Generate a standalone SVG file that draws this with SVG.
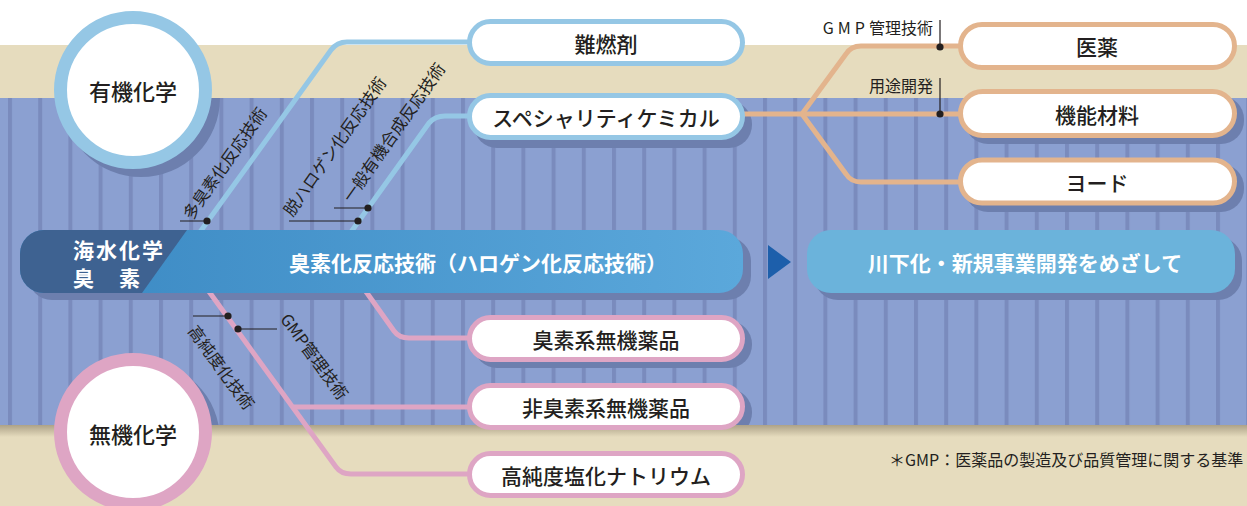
<svg xmlns="http://www.w3.org/2000/svg" width="1247" height="506" viewBox="0 0 1247 506">
<defs>
<style>
.jp{font-family:'Noto Sans CJK JP','Noto Sans',sans-serif;}
.lbl{font-size:21px;fill:#231f20;text-anchor:middle;dominant-baseline:central;font-weight:500;}
.circ{font-size:22px;fill:#231f20;text-anchor:middle;dominant-baseline:central;font-weight:500;}
.rot{font-size:16.5px;fill:#231f20;text-anchor:middle;dominant-baseline:central;}
.wh{fill:#fff;font-weight:bold;font-size:21px;}
.sm{font-size:16px;fill:#231f20;}
.pb{fill:#fff;stroke:#95c7e5;stroke-width:5;}
.pp{fill:#fff;stroke:#dea5c4;stroke-width:5;}
.po{fill:#fff;stroke:#e3b48d;stroke-width:5;}
.sh{fill:#6d7fae;}
.lb{fill:none;stroke:#95c7e5;stroke-width:5;stroke-linejoin:round;}
.lp{fill:none;stroke:#dea5c4;stroke-width:5;stroke-linejoin:round;}
.lo{fill:none;stroke:#e3b48d;stroke-width:5;stroke-linejoin:round;}
.tick{stroke:#231f20;stroke-width:1.2;fill:none;}
.dot{fill:#231f20;}
.stripe{fill:#7a8bbd;}
</style>
<clipPath id="blueClip"><rect x="0" y="98" width="1247" height="327"/></clipPath>
<linearGradient id="barGrad" x1="0" y1="0" x2="1" y2="0">
<stop offset="0" stop-color="#3a88c2"/>
<stop offset="1" stop-color="#5ba8db"/>
</linearGradient>
<linearGradient id="floorGrad" x1="0" y1="0" x2="0" y2="1">
<stop offset="0" stop-color="#ada288"/>
<stop offset="1" stop-color="#e6dcbe"/>
</linearGradient>
<pattern id="stripes" x="8" y="0" width="30.2" height="506" patternUnits="userSpaceOnUse">
<rect x="0" y="0" width="4" height="506" class="stripe"/>
</pattern>
</defs>

<g id="background">
<rect x="0" y="0" width="1247" height="506" fill="#ffffff"/>
<rect x="0" y="45" width="1247" height="53" fill="#e6dcbe"/>
<rect x="0" y="98" width="1247" height="327" fill="#8ba0d1"/>
<rect x="0" y="98" width="1247" height="327" fill="url(#stripes)"/>
<rect x="0" y="425" width="1247" height="81" fill="#e6dcbe"/>
<rect x="0" y="425" width="1247" height="12" fill="url(#floorGrad)"/>
</g>

<g id="shadows" clip-path="url(#blueClip)">
<circle cx="141" cy="98" r="79" class="sh"/>
<circle cx="141" cy="440" r="79" class="sh"/>
<rect x="28" y="237" width="723" height="63" rx="24" class="sh"/>
<rect x="814" y="237" width="428" height="63" rx="24" class="sh"/>
<rect x="474" y="26" width="278" height="47" rx="23" class="sh"/>
<rect x="474" y="101" width="278" height="47" rx="23" class="sh"/>
<rect x="474" y="321" width="278" height="47" rx="23" class="sh"/>
<rect x="474" y="389" width="278" height="47" rx="23" class="sh"/>
<rect x="965" y="96" width="279" height="48" rx="23" class="sh"/>
<rect x="965" y="164" width="279" height="48" rx="23" class="sh"/>
</g>

<g id="connectors">
<path class="lb" d="M 200 232 L 331 50 Q 337 42 347 42 L 470 42"/>
<path class="lb" d="M 351 232 L 429 123 Q 435 116 445 116 L 470 116"/>
<path class="lp" d="M 205 286 L 336 467 Q 341 474 351 474 L 470 474"/>
<path class="lp" d="M 294 407 L 470 407"/>
<path class="lp" d="M 362 286 L 394 331 Q 399 338 409 338 L 470 338"/>
<path class="lo" d="M 742 114 L 960 114"/>
<path class="lo" d="M 802 114 L 846 54 Q 851 46 861 46 L 960 46"/>
<path class="lo" d="M 802 114 L 846 174 Q 851 182 861 182 L 960 182"/>
<path class="tick" d="M 180 221 L 207 221 M 334 208 L 368 208 M 289 221 L 358 221 M 193 316 L 228 316 M 238 329 L 277 329 M 940 20 L 940 47 M 940 78 L 940 114"/>
<circle class="dot" cx="207" cy="221" r="3.6"/>
<circle class="dot" cx="368" cy="208" r="3.6"/>
<circle class="dot" cx="358" cy="221" r="3.6"/>
<circle class="dot" cx="228" cy="316" r="3.6"/>
<circle class="dot" cx="238" cy="329" r="3.6"/>
<circle class="dot" cx="940" cy="47" r="3.6"/>
<circle class="dot" cx="940" cy="114" r="3.6"/>
</g>

<g id="connector-labels" class="jp">
<text class="rot" transform="translate(224 163) rotate(-55)">多臭素化反応技術</text>
<text class="rot" transform="translate(334 146) rotate(-55)">脱ハロゲン化反応技術</text>
<text class="rot" transform="translate(393 132) rotate(-55)">一般有機合成反応技術</text>
<text class="rot" transform="translate(222 367) rotate(54)">高純度化技術</text>
<text class="rot" transform="translate(315 356) rotate(54)">GMP管理技術</text>
<text class="sm" x="933" y="34" text-anchor="end" font-size="16.5"><tspan letter-spacing="4">GMP</tspan>管理技術</text>
<text class="sm" x="933" y="92" text-anchor="end" font-size="16.5">用途開発</text>
</g>

<g id="node-organic">
<circle cx="133" cy="90" r="72.5" fill="#fff" stroke="#95c7e5" stroke-width="13"/>
<text class="jp circ" x="133" y="90">有機化学</text>
</g>
<g id="node-inorganic">
<circle cx="133" cy="432" r="72.5" fill="#fff" stroke="#dea5c4" stroke-width="13"/>
<text class="jp circ" x="133" y="433">無機化学</text>
</g>

<g id="node-main">
<rect x="20" y="230" width="723" height="63" rx="24" fill="url(#barGrad)"/>
<path d="M 187 230 L 44 230 A 24 24 0 0 0 20 254 L 20 269 A 24 24 0 0 0 44 293 L 142 293 Z" fill="#3e6291"/>
<text class="jp wh" x="73" y="248.5" font-size="19.5" letter-spacing="2" dominant-baseline="central">海水化学</text>
<text class="jp wh" x="73" y="277" font-size="19.5" letter-spacing="2" dominant-baseline="central">臭　素</text>
<text class="jp wh" x="478" y="262" text-anchor="middle" dominant-baseline="central">臭素化反応技術（ハロゲン化反応技術）</text>
</g>

<g id="arrow">
<polygon points="768,245 791,262 768,279" fill="#1d5fab"/>
</g>

<g id="node-goal">
<rect x="807" y="230" width="428" height="63" rx="24" fill="#6bb3db"/>
<text class="jp wh" x="1025" y="262" text-anchor="middle" dominant-baseline="central">川下化・新規事業開発をめざして</text>
</g>

<g id="node-flame">
<rect x="469.5" y="21.5" width="273" height="42" rx="21" class="pb"/>
<text class="jp lbl" x="606" y="43">難燃剤</text>
</g>
<g id="node-specialty">
<rect x="469.5" y="95.5" width="273" height="42" rx="21" class="pb"/>
<text class="jp lbl" x="606" y="117">スペシャリティケミカル</text>
</g>
<g id="node-bromine-inorg">
<rect x="469.5" y="317.5" width="273" height="42" rx="21" class="pp"/>
<text class="jp lbl" x="606" y="339">臭素系無機薬品</text>
</g>
<g id="node-nonbromine">
<rect x="469.5" y="385.5" width="273" height="42" rx="21" class="pp"/>
<text class="jp lbl" x="606" y="407">非臭素系無機薬品</text>
</g>
<g id="node-nacl">
<rect x="469.5" y="453.5" width="273" height="42" rx="21" class="pp"/>
<text class="jp lbl" x="606" y="475">高純度塩化ナトリウム</text>
</g>
<g id="node-pharma">
<rect x="960.5" y="24.5" width="274" height="43" rx="21.5" class="po"/>
<text class="jp lbl" x="1097" y="46">医薬</text>
</g>
<g id="node-functional">
<rect x="960.5" y="91.5" width="274" height="44" rx="22" class="po"/>
<text class="jp lbl" x="1097" y="114">機能材料</text>
</g>
<g id="node-iodine">
<rect x="960.5" y="160" width="274" height="43" rx="21.5" class="po"/>
<text class="jp lbl" x="1097" y="182">ヨード</text>
</g>

<g id="footnote">
<text class="jp sm" x="889" y="466" font-size="16.75">＊GMP：医薬品の製造及び品質管理に関する基準</text>
</g>
</svg>
